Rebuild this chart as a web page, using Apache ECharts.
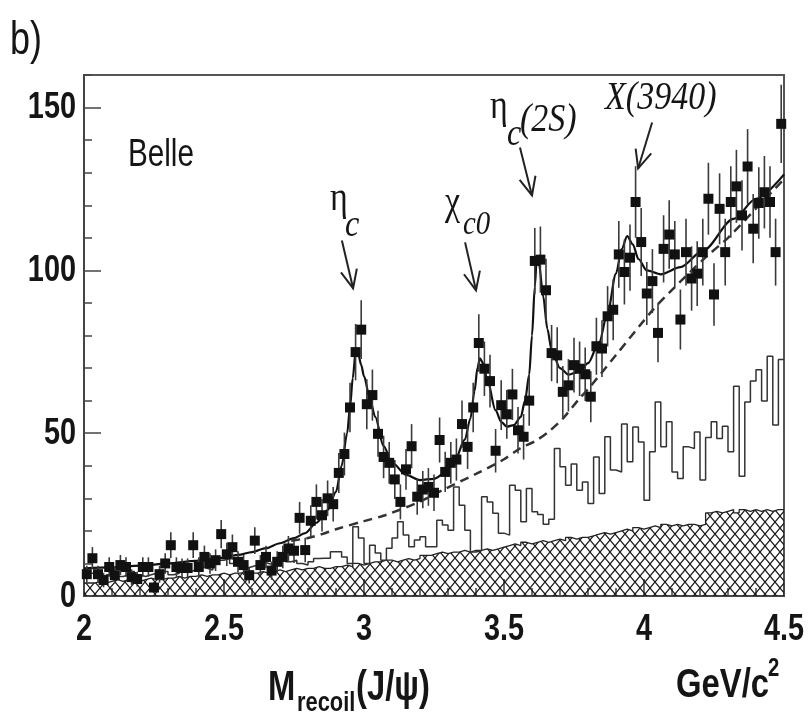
<!DOCTYPE html>
<html>

<head>
    <meta charset="utf-8">
    <title>ECharts</title>
    <script src="https://cdn.jsdelivr.net/npm/echarts@6/dist/echarts.min.js"></script>
    <style>
        html, body { margin: 0; padding: 0; background: #fff; }
    </style>
</head>

<body>
    <div id="main" style="width: 810px;height:721px;"></div>
    <script type="text/javascript">
        var myChart = echarts.init(document.getElementById('main'));

        // histogram binning (GeV/c^2)
        var binStart = 2.0
        var binWidth = 0.02

        // data points, events per bin
        var counts = [
            6.7, 11.6, 6.7, 4.9, 8.9, 6.4, 9.5, 8.9, 5.8, 5.2,
            8.9, 8.9, 2.6, 6.7, 10, 15.6, 8.9, 8.6, 8.6, 15.6,
            8.9, 12, 10, 11, 19, 12.8, 15, 10.5, 9.5, 6.4,
            17, 9.5, 12, 7.8, 10.5, 12, 14.6, 13.9, 24, 14.1,
            23.1, 28.9, 24.8, 30, 28.2, 37.8, 43.6, 57.9, 74.9, 81.8,
            58.9, 61.7, 49.8, 42.7, 40.9, 35.8, 28.9, 38.9, 46, 30.5,
            32.7, 33.5, 31.7, 47.9, 38.1, 40.9, 41.9, 52.8, 45.8, 57.9,
            77.7, 69.8, 66, 44.6, 58.6, 55.8, 61.9, 50.9, 48.9, 60,
            102.9, 103.3, 93.9, 74.6, 73.9, 62.7, 64.7, 70.9, 69.8, 68.1,
            61.2, 76.7, 76, 85.9, 87.9, 104.9, 99.5, 103.9, 121, 108.7,
            92.9, 96.7, 80.8, 106.6, 111, 104.9, 84.9, 105.6, 97.5, 99,
            105.6, 122, 92.6, 118.9, 105.6, 121, 125.8, 116.9, 131.9, 112.8,
            120.7, 124, 121, 105.6, 145
        ]

        // open histogram
        var openHist = [
            6, 7, 6, 5.5, 6.5, 7, 6, 6.5, 7.5, 6.5,
            6, 6.5, 7, 6.5, 7.5, 6.5, 7, 8, 7.5, 8,
            9, 8.5, 8, 10, 11, 11.5, 10, 9.5, 8.5, 9,
            9.5, 10.5, 10, 9.5, 11, 12, 10.5, 11, 10, 9.5,
            10.5, 11.5, 11.6, 11.6, 13.6, 13.6, 12, 10, 21.3, 17.8,
            10, 15.6, 13.2, 11, 14.7, 17.8, 22.8, 18.7, 15.1, 17.2,
            18.2, 15.1, 15.1, 23.3, 21.8, 20.2, 33.5, 27.9, 20.2, 13.5,
            14, 30.5, 28.9, 25.4, 19.3, 18.7, 34, 32.5, 22.8, 33,
            25.9, 25, 22, 23.6, 45.3, 39.7, 34, 40.5, 32.5, 35,
            28.4, 42.7, 31.5, 48.9, 38.7, 38.1, 52.8, 41.2, 51.9, 47.3,
            29.4, 44.3, 59.6, 45.8, 53.5, 38.1, 36.1, 45.8, 45.3, 50.4,
            35.6, 48.7, 53.5, 48.4, 52.1, 44.3, 64.4, 36.8, 59.6, 66,
            69.5, 59.9, 73.6, 52.5, 72.6
        ]

        // hatched histogram
        var hatchHist = [
            4, 4, 4.5, 4, 4.5, 5, 4.5, 5, 5, 4.5, 5, 5.5, 5, 5, 5.5,
            5.5, 6, 5.5, 6, 6, 6.5, 6, 6.5, 6.5, 7, 6.5, 7, 7, 7.5, 7,
            7, 7.5, 7, 7.5, 8, 7.5, 8, 8.5, 8, 8.5, 8.5, 9, 8.5, 8.5, 9,
            9, 9.5, 9, 10, 9.5, 10, 10.5, 10.5, 11, 11, 10.5, 11, 11.5, 11, 11.5,
            12.5, 12.5, 13, 13.5, 13, 13.5, 13.5, 14, 13.5, 14, 14, 14.5, 14, 14.5, 15,
            15.5, 16, 15.5, 16.5, 16, 16.5, 17, 16.5, 17, 17.5, 17, 18, 17.5, 18, 18,
            18.5, 19, 19.5, 19, 19.5, 20, 20.5, 20, 21, 20.5, 21, 21.5, 21, 22, 21.5,
            22, 21.5, 22, 22, 21.5,
            22, 25.5, 26, 25.5, 26, 26.5, 25.5, 26.5, 26, 26.5, 26, 26.5, 26, 26.5, 26.5
        ]

        // full fit (solid)
        var fitCurve = [
            [2.00, 8.5], [2.10, 8.8], [2.20, 9.3], [2.30, 10.0], [2.40, 10.8], [2.50, 11.8],
            [2.55, 12.6], [2.60, 13.5], [2.65, 14.7], [2.70, 16.2], [2.75, 17.8], [2.79, 19.3],
            [2.83, 22.5], [2.87, 26.4], [2.90, 32], [2.92, 40], [2.94, 50], [2.95, 58],
            [2.96, 67], [2.97, 75], [2.98, 74], [2.99, 71], [3.00, 67.5], [3.02, 61],
            [3.04, 55], [3.07, 46], [3.10, 41], [3.15, 37.2], [3.20, 35.6], [3.25, 36],
            [3.29, 37.8], [3.325, 41.7], [3.36, 48], [3.38, 54.5], [3.395, 63], [3.405, 70],
            [3.414, 73], [3.425, 71.5], [3.44, 66.5], [3.47, 57], [3.49, 53.5], [3.51, 52],
            [3.535, 52.5], [3.56, 55], [3.575, 60], [3.59, 68], [3.60, 80], [3.61, 95],
            [3.617, 103.5], [3.625, 102], [3.64, 92], [3.655, 82], [3.67, 75.5], [3.70, 70],
            [3.73, 68], [3.77, 69], [3.80, 71.5], [3.84, 78], [3.87, 87], [3.90, 99],
            [3.92, 106.5], [3.94, 110.5], [3.96, 108], [3.98, 103.5], [4.01, 100], [4.06, 98.8],
            [4.13, 101], [4.21, 106], [4.32, 115.8], [4.40, 122], [4.50, 129.5]
        ]

        // background part of the fit (dashed)
        var bkgCurve = [
            [2.74, 17.0], [2.80, 17.8], [2.85, 19], [2.90, 20.5], [3.00, 23], [3.075, 24.8],
            [3.20, 29], [3.28, 32.5], [3.40, 37.5], [3.50, 42], [3.557, 45.3], [3.61, 47.5],
            [3.66, 50.5], [3.71, 54.5], [3.77, 60.7], [3.80, 63.5], [3.90, 74], [4.03, 87.7],
            [4.10, 94], [4.22, 104], [4.30, 110], [4.40, 119], [4.50, 128]
        ]

        var xTickLabels = [2, 2.5, 3, 3.5, 4, 4.5]
        var yTickLabels = [0, 50, 100, 150]

        // peak labels: text anchor, arrow start, arrow tip (data coordinates)
        var peaks = [
            { parts: [['η', 0, 0, 'normal', 40], ['c', 15, 26, 'italic', 38]], at: [2.879, 117.5], from: [2.921, 109.2], to: [2.961, 94.5] },
            { parts: [['χ', 0, 0, 'normal', 40], ['c0', 18, 20, 'italic', 34]], at: [3.289, 116.5], from: [3.361, 108.6], to: [3.400, 93.9] },
            { parts: [['η', 0, 0, 'normal', 40], ['c', 17, 26, 'italic', 38], ['(2S)', 30, 13, 'italic', 40]], at: [3.450, 145.7], from: [3.557, 137.7], to: [3.600, 123.0] },
            { parts: [['X(3940)', 0, 0, 'italic', 40]], at: [3.861, 148.5], from: [4.029, 145.4], to: [3.979, 131.3] }
        ]

        const sans = '"Liberation Sans", Arial, sans-serif'
        const serif = '"Liberation Serif", "DejaVu Serif", serif'
        const squeeze = 0.78

        const r3 = (v) => Math.round(v * 1000) / 1000
        const points = counts.map((v, i) => [r3(binStart + binWidth * (i + 0.5)), v])
        const errBars = counts.map((v, i) => [r3(binStart + binWidth * (i + 0.5)), v - Math.sqrt(v), v + Math.sqrt(v)])
        const stepData = (vals) => {
            let d = vals.map((v, i) => [r3(binStart + binWidth * i), v])
            d.push([r3(binStart + binWidth * vals.length), vals[vals.length - 1]])
            return d
        }

        // cross-hatch pattern
        var pat = document.createElement('canvas')
        pat.width = 10
        pat.height = 12
        var ctx = pat.getContext('2d')
        ctx.strokeStyle = '#1a1a1a'
        ctx.lineWidth = 1.2
        ctx.beginPath()
        ctx.moveTo(0, 0); ctx.lineTo(10, 12)
        ctx.moveTo(10, 0); ctx.lineTo(0, 12)
        ctx.stroke()

        var tickStyle = { color: '#444', width: 1.5 }

        var option = {
            animation: false,
            grid: {
                left: 84, right: 26, top: 75, bottom: 125,
                show: true, borderColor: '#555', borderWidth: 2
            },
            xAxis: {
                type: 'value', min: 2, max: 4.5, interval: 0.5,
                axisLine: { show: true, onZero: false, lineStyle: { color: '#444', width: 2 } },
                axisTick: { show: true, inside: true, length: 17, lineStyle: tickStyle },
                minorTick: { show: true, splitNumber: 5, length: 8, lineStyle: tickStyle },
                splitLine: { show: false },
                axisLabel: { show: false }
            },
            yAxis: [{
                type: 'value', min: 0, max: 160, interval: 10,
                axisLine: { show: true, onZero: false, lineStyle: { color: '#444', width: 2 } },
                axisTick: { show: true, inside: true, length: 8, lineStyle: tickStyle },
                splitLine: { show: false },
                axisLabel: { show: false }
            }, {
                type: 'value', min: 0, max: 160, interval: 50, position: 'left',
                axisLine: { show: false },
                axisTick: { show: true, inside: true, length: 17, customValues: yTickLabels, lineStyle: tickStyle },
                splitLine: { show: false },
                axisLabel: { show: false }
            }],
            series: [{
                name: 'hatched',
                type: 'line', step: 'end', symbol: 'none', z: 1,
                data: stepData(hatchHist),
                lineStyle: { color: '#222', width: 1.3 },
                areaStyle: { color: { image: pat, repeat: 'repeat' }, opacity: 1 }
            }, {
                name: 'open',
                type: 'line', step: 'end', symbol: 'none', z: 2,
                data: stepData(openHist),
                lineStyle: { color: '#333', width: 1.5 }
            }, {
                name: 'bkg',
                type: 'line', smooth: 0.3, symbol: 'none', z: 3,
                data: bkgCurve,
                lineStyle: { color: '#333', width: 2.5, type: [9, 6] }
            }, {
                name: 'fit',
                type: 'line', smooth: 0.3, smoothMonotone: 'x', symbol: 'none', z: 4,
                data: fitCurve,
                lineStyle: { color: '#111', width: 2.2 }
            }, {
                name: 'errors',
                type: 'custom', z: 5,
                encode: { x: 0, y: [1, 2] },
                data: errBars,
                renderItem: function (params, api) {
                    var p1 = api.coord([api.value(0), api.value(1)])
                    var p2 = api.coord([api.value(0), api.value(2)])
                    return {
                        type: 'line',
                        shape: { x1: p1[0], y1: p1[1], x2: p2[0], y2: p2[1] },
                        style: { stroke: '#3a3a3a', lineWidth: 1.6 }
                    }
                }
            }, {
                name: 'data',
                type: 'scatter', symbol: 'rect', symbolSize: 10, z: 6,
                data: points,
                itemStyle: { color: '#111', opacity: 1 }
            }]
        };

        myChart.setOption(option);

        // text helper: x = anchor, y = baseline (pixels); squeezed horizontally
        const txt = (t, x, base, size, family, weight, fstyle, sx, align) => ({
            type: 'text', x: x, y: base - 0.34 * size, scaleX: sx || 1, z: 100,
            style: {
                text: t, x: 0, y: 0, fill: '#151515',
                font: fstyle + ' ' + weight + ' ' + size + 'px ' + family,
                textAlign: align || 'left', textVerticalAlign: 'middle',
                align: align || 'left', verticalAlign: 'middle'
            }
        })

        var toPx = (p) => myChart.convertToPixel({ xAxisIndex: 0, yAxisIndex: 0 }, p)
        var els = []

        // tick labels placed through the axis scales
        xTickLabels.forEach(function (v) {
            var p = toPx([v, 0])
            els.push(txt(String(v), p[0], 642, 37, sans, 'bold', 'normal', squeeze, 'center'))
        })
        yTickLabels.forEach(function (v) {
            var p = toPx([2, v])
            els.push(txt(String(v), p[0] - 8, p[1] + 13, 37, sans, 'bold', 'normal', squeeze, 'right'))
        })

        els.push(txt('b)', 10, 57, 46, sans, 'normal', 'normal', squeeze))
        els.push(txt('Belle', 128, 168, 38, sans, 'normal', 'normal', squeeze))

        // axis title
        els.push(txt('M', 268, 703, 42, sans, 'bold', 'normal', squeeze))
        els.push(txt('recoil', 297, 713, 28, sans, 'bold', 'normal', squeeze))
        els.push(txt('(J/ψ)', 356, 703, 42, sans, 'bold', 'normal', squeeze))
        els.push(txt('GeV/c', 676, 700, 40, sans, 'bold', 'normal', 0.82))
        els.push(txt('2', 768, 678, 26, sans, 'bold', 'normal', squeeze))

        peaks.forEach(function (pk) {
            var a = toPx(pk.at)
            pk.parts.forEach(function (p) {
                els.push(txt(p[0], a[0] + p[1], a[1] + p[2], p[4], serif, 'normal', p[3], 0.85))
            })
            var s = toPx(pk.from), e = toPx(pk.to)
            var dx = s[0] - e[0], dy = s[1] - e[1]
            var len = Math.sqrt(dx * dx + dy * dy)
            dx /= len; dy /= len
            var wing = (ang) => {
                var c = Math.cos(ang), sn = Math.sin(ang)
                return [e[0] + 20 * (dx * c - dy * sn), e[1] + 20 * (dx * sn + dy * c)]
            }
            var w1 = wing(0.42), w2 = wing(-0.42)
            var lineStyle = { stroke: '#222', lineWidth: 2, fill: null }
            els.push({ type: 'line', z: 100, shape: { x1: s[0], y1: s[1], x2: e[0], y2: e[1] }, style: lineStyle })
            els.push({ type: 'polyline', z: 100, shape: { points: [w1, e, w2] }, style: lineStyle })
        })

        myChart.setOption({ graphic: els });
    </script>
</body>

</html>
